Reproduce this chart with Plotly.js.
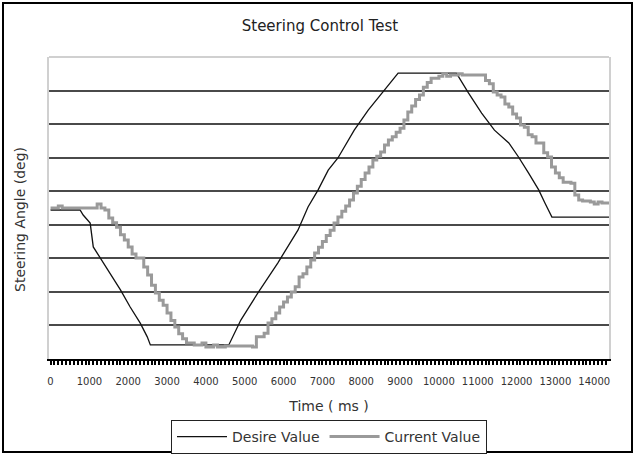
<!DOCTYPE html>
<html>
<head>
<meta charset="utf-8">
<script src="https://cdn.plot.ly/plotly-3.0.1.min.js"></script>
<style>
  html, body { margin: 0; padding: 0; background: #fff; }
  #chart { width: 640px; height: 461px; }
</style>
</head>
<body>
<div id="chart"></div>
<script>
// Desired steering angle (ms, deg)
const desTime = [0, 760, 840, 1020, 1100, 1280, 1590, 1800, 2050, 2310, 2490, 2570,
  4590, 4900, 5340, 5850, 6370, 6630, 6890, 7150, 7400, 7820, 8180, 8590, 8950,
  10450, 10760, 11100, 11430, 11800, 12050, 12310, 12570, 12730, 12910, 14380];
const desValue = [44.4, 44.4, 42.9, 40.5, 33.4, 30.1, 24.4, 20.6, 15.5, 10.7, 6.6, 4.2,
  4.2, 11.6, 19.7, 28.6, 38.4, 45.3, 50.4, 56.3, 59.9, 68.2, 74.2, 80.2, 85.2,
  85.2, 79.3, 73.3, 68.2, 64.4, 60.2, 55.4, 50.4, 46.5, 42.3, 42.3];

// Measured steering angle, sampled in steps (ms, deg)
const curTime = [0, 200, 300, 1200, 1300, 1400, 1500, 1600, 1700, 1800,
  1900, 2000, 2100, 2200, 2400, 2500, 2600, 2700, 2800, 2900,
  3000, 3100, 3200, 3300, 3400, 3500, 3700, 3900, 4000, 4200,
  4300, 4500, 5200, 5300, 5500, 5600, 5700, 5800, 5900, 6000,
  6100, 6200, 6300, 6400, 6500, 6600, 6700, 6800, 6900, 7000,
  7100, 7200, 7300, 7400, 7500, 7600, 7700, 7800, 7900, 8000,
  8100, 8200, 8300, 8400, 8500, 8600, 8700, 8800, 8900, 9000,
  9100, 9200, 9300, 9400, 9500, 9600, 9700, 9800, 10000, 10100,
  10200, 10300, 10500, 10600, 11200, 11300, 11400, 11500, 11600, 11700,
  11800, 11900, 12000, 12100, 12200, 12300, 12400, 12500, 12700, 12800,
  12900, 13000, 13100, 13200, 13400, 13500, 13600, 13700, 13900, 14000,
  14100, 14200, 14380];
const curValue = [45.0, 45.6, 45.0, 46.2, 45.0, 44.4, 42.0, 40.6, 39.3, 37.0,
  35.5, 33.4, 31.3, 30.1, 27.4, 25.0, 22.0, 19.7, 17.5, 16.0,
  13.7, 11.5, 9.5, 7.5, 6.0, 4.8, 4.2, 4.8, 3.6, 4.2,
  3.6, 3.9, 3.6, 6.6, 7.7, 10.7, 12.0, 13.7, 15.5, 17.0,
  18.5, 20.0, 21.5, 24.4, 25.4, 27.4, 29.5, 31.6, 33.3, 35.0,
  36.8, 38.4, 40.5, 42.3, 44.0, 45.6, 47.4, 49.5, 51.5, 53.5,
  55.4, 57.2, 59.3, 60.4, 61.7, 63.8, 65.3, 66.2, 67.6, 68.8,
  71.2, 73.6, 75.4, 77.3, 78.7, 81.0, 82.4, 83.7, 84.3, 85.0,
  84.3, 84.6, 85.0, 84.6, 83.0, 82.0, 79.6, 78.7, 78.1, 76.0,
  75.1, 73.0, 71.8, 69.7, 69.1, 66.8, 66.2, 64.4, 61.5, 60.2,
  57.2, 55.4, 54.0, 52.7, 52.4, 48.9, 47.4, 47.1, 46.8, 46.2,
  46.8, 46.5, 46.5];

const timeTicks = [0, 1000, 2000, 3000, 4000, 5000, 6000, 7000, 8000, 9000,
  10000, 11000, 12000, 13000, 14000];
const timeLabels = timeTicks.map(String);
const angleGrid = [10, 20, 30, 40, 50, 60, 70, 80];

const FONT = 'DejaVu Sans, sans-serif';

const traces = [
  {
    name: 'Desire Value',
    x: desTime, y: desValue,
    type: 'scatter', mode: 'lines',
    line: { color: '#111111', width: 1.3 }
  },
  {
    name: 'Current Value',
    x: curTime, y: curValue,
    type: 'scatter', mode: 'lines',
    line: { color: '#9a9a9a', width: 3, shape: 'hv' }
  }
];

const layout = {
  width: 640, height: 461,
  margin: { l: 49, r: 31, t: 57, b: 102, autoexpand: false },
  paper_bgcolor: '#ffffff',
  plot_bgcolor: '#ffffff',
  font: { family: FONT, color: '#333333' },
  title: {
    text: 'Steering Control Test',
    font: { family: FONT, size: 15, color: '#222222' },
    x: 0.5, xref: 'container', xanchor: 'center',
    y: 1 - 26 / 461, yref: 'container', yanchor: 'middle'
  },
  xaxis: {
    automargin: false,
    range: [-40, 14380],
    tickmode: 'array', tickvals: timeTicks, ticktext: timeLabels,
    ticks: 'outside', ticklen: 4, tickwidth: 2, tickcolor: '#000',
    minor: { dtick: 100, tick0: 0, ticks: 'outside', ticklen: 4, tickwidth: 2, tickcolor: '#000', showgrid: false },
    showgrid: false, zeroline: false,
    showline: true, linecolor: '#000', linewidth: 2,
    tickfont: { family: FONT, size: 10, color: '#333333' },
    ticklabelstandoff: 8,
    title: { text: 'Time ( ms )', font: { family: FONT, size: 14, color: '#333333' }, standoff: 15 }
  },
  yaxis: {
    automargin: false,
    range: [0, 90],
    tickmode: 'array', tickvals: angleGrid,
    showticklabels: false, ticks: '',
    showgrid: true, gridcolor: '#4a4a4a', gridwidth: 2,
    zeroline: false,
    showline: true, linecolor: '#d0d0d0', linewidth: 2, mirror: true
  },
  annotations: [
    // vertical axis caption, sitting a little below the plot's middle
    { text: 'Steering Angle (deg)', textangle: -90,
      xref: 'paper', yref: 'paper',
      x: (20 - 49) / 560, y: (359 - 220) / 302,
      xanchor: 'center', yanchor: 'middle', showarrow: false,
      font: { family: FONT, size: 14, color: '#333333' } }
  ],
  showlegend: true,
  legend: {
    orientation: 'h',
    x: 0.5, xanchor: 'center', xref: 'paper',
    y: (359 - 420) / 302, yanchor: 'top',
    bordercolor: '#222222', borderwidth: 1,
    bgcolor: '#ffffff',
    itemwidth: 50,
    font: { family: FONT, size: 14, color: '#333333' }
  },
  shapes: [
    // light frame edge along the top of the plotting area
    { type: 'line', xref: 'paper', yref: 'paper', x0: 0, x1: 1, y0: 1, y1: 1,
      line: { color: '#d0d0d0', width: 2 } },
    // outer frame around the whole chart
    { type: 'rect', xref: 'paper', yref: 'paper',
      x0: (3 - 49) / 560, x1: (632 - 49) / 560,
      y0: (359 - 452) / 302, y1: (359 - 3) / 302,
      line: { color: '#000000', width: 2 } }
  ]
};

Plotly.newPlot('chart', traces, layout, { staticPlot: true, displayModeBar: false });
</script>
</body>
</html>
